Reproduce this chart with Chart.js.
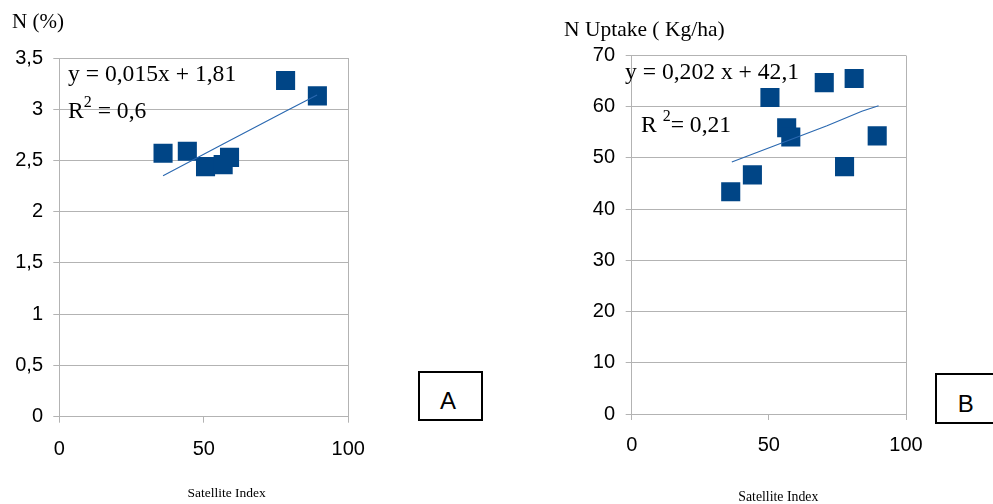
<!DOCTYPE html>
<html>
<head>
<meta charset="utf-8">
<script src="https://cdn.jsdelivr.net/npm/chart.js@4/dist/chart.umd.min.js"></script>
<style>
  html, body { margin:0; padding:0; background:#fff; width:993px; height:504px; overflow:hidden; position:relative; }
  .wrap { position:absolute; top:0; }
  .t { position:absolute; white-space:nowrap; line-height:1; color:#000; }
  .serif { font-family:"Liberation Serif","Times New Roman",serif; }
  .sans { font-family:"Liberation Sans",Arial,sans-serif; }
  .sup { position:relative; font-size:16px; }
  .box { position:absolute; border:2px solid #000; box-sizing:border-box; background:#fff; }
</style>
</head>
<body>
<div class="wrap" style="left:0;width:400px;height:504px;"><canvas id="cA" width="400" height="504"></canvas></div>
<div class="wrap" style="left:560px;width:433px;height:504px;"><canvas id="cB" width="433" height="504"></canvas></div>

<div class="t serif" style="left:12px;top:10.7px;font-size:21px;">N (%)</div>
<div class="t serif" style="left:68px;top:62px;font-size:23.6px;">y = 0,015x + 1,81</div>
<div class="t serif" style="left:68px;top:98.6px;font-size:23.6px;">R<span class="sup" style="top:-11px;">2</span> = 0,6</div>

<div class="t serif" style="left:564px;top:18.8px;font-size:21.5px;">N Uptake ( Kg/ha)</div>
<div class="t serif" style="left:625px;top:60.2px;font-size:23.6px;">y = 0,202 x + 42,1</div>
<div class="t serif" style="left:641px;top:112.5px;font-size:23.6px;">R <span class="sup" style="top:-11px;">2</span>= 0,21</div>

<div class="t serif" style="left:226.6px;top:485.7px;font-size:13.5px;transform:translateX(-50%);">Satellite Index</div>
<div class="t serif" style="left:778.3px;top:490.4px;font-size:13.8px;transform:translateX(-50%);">Satellite Index</div>

<div class="box" style="left:418px;top:370.7px;width:65px;height:50px;"></div>
<div class="t sans" style="left:440px;top:389px;font-size:24px;">A</div>
<div class="box" style="left:935px;top:373.3px;width:80px;height:51px;"></div>
<div class="t sans" style="left:957.7px;top:392.4px;font-size:24px;">B</div>

<script>
// ---- Data ----
const satIndexA = [35.9, 44.3, 50.6, 56.7, 58.9, 78.3, 89.3];
const nPercent  = [2.57, 2.59, 2.44, 2.46, 2.53, 3.28, 3.13];
const trendAx   = [35.9, 56.7, 78.3, 89.2];
const trendAy   = [2.35, 2.66, 2.98, 3.14];

const satIndexB = [36.1, 44.0, 50.4, 56.5, 58.0, 70.2, 77.6, 81.1, 89.5];
const nUptake   = [43.4, 46.7, 61.8, 55.9, 54.1, 64.7, 48.3, 65.5, 54.3];
const trendBx   = [36.5, 71.2, 83.9, 90.0];
const trendBy   = [49.2, 56.3, 59.1, 60.2];

const yTicksA = ['0', '0,5', '1', '1,5', '2', '2,5', '3', '3,5'];
const yTicksB = ['0', '10', '20', '30', '40', '50', '60', '70'];
const xTicks  = ['0', '50', '100'];

const GRID = '#b3b3b3';
const MARK = '#004586';
const TREND = '#2a68b0';

function pts(xs, ys) { return xs.map((x, i) => ({ x: x, y: ys[i] })); }

function makeChart(id, xs, ys, txs, tys, yMax, yStep, yLabels, geo) {
  return new Chart(document.getElementById(id), {
    type: 'scatter',
    data: {
      datasets: [
        { data: pts(txs, tys), showLine: true, borderColor: TREND, borderWidth: 1.1,
          pointRadius: 0, fill: false, order: 0 },
        { data: pts(xs, ys), pointStyle: 'rect', pointRadius: 13.5, pointHoverRadius: 13.5,
          backgroundColor: MARK, borderColor: MARK, borderWidth: 0, order: 1 }
      ]
    },
    options: {
      responsive: false, animation: false, events: [],
      layout: { padding: { left: 0, top: geo.top, right: geo.right, bottom: 0 } },
      plugins: { legend: { display: false }, tooltip: { enabled: false } },
      scales: {
        x: {
          type: 'linear', min: 0, max: 100,
          ticks: { stepSize: 50, padding: geo.xPad, color: '#000',
                   font: { family: 'Liberation Sans', size: 20 },
                   callback: (v, i) => xTicks[i] },
          grid: { color: c => (c.tick && c.tick.value === 50) ? 'rgba(0,0,0,0)' : GRID,
                  tickColor: GRID, tickLength: 6, lineWidth: 1 },
          border: { color: GRID },
          afterFit: s => { s.height = geo.xH; }
        },
        y: {
          type: 'linear', min: 0, max: yMax,
          ticks: { stepSize: yStep, padding: geo.yPad, color: '#000',
                   font: { family: 'Liberation Sans', size: 20 },
                   callback: (v, i) => yLabels[i] },
          grid: { color: GRID, tickColor: GRID, tickLength: 6, lineWidth: 1 },
          border: { color: GRID },
          afterFit: s => { s.width = geo.yW; }
        }
      }
    }
  });
}

makeChart('cA', satIndexA, nPercent, trendAx, trendAy, 3.5, 0.5, yTicksA,
  { top: 58, right: 51.7, xH: 87.3, yW: 59.3, xPad: 15, yPad: 10.3 });
makeChart('cB', satIndexB, nUptake, trendBx, trendBy, 70, 10, yTicksB,
  { top: 55.5, right: 87, xH: 90, yW: 71.7, xPad: 13.5, yPad: 10.7 });
</script>
</body>
</html>
